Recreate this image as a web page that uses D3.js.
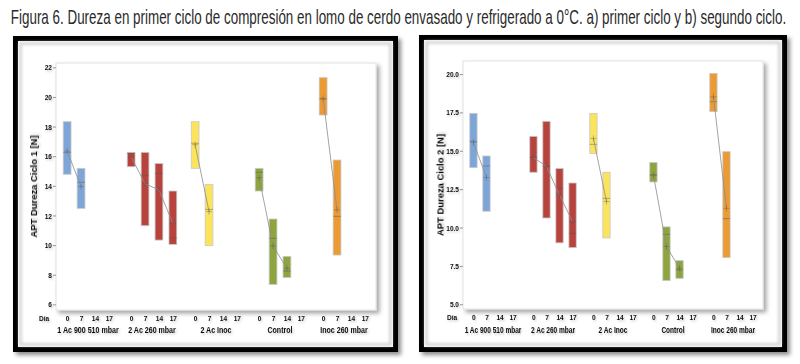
<!DOCTYPE html>
<html>
<head>
<meta charset="utf-8">
<script src="https://cdn.jsdelivr.net/npm/d3@7"></script>
<style>
  html, body { margin: 0; padding: 0; background: #fff; }
  svg { display: block; }
</style>
</head>
<body>
<script>
// ---------------- DATA ----------------
const titleText = "Figura 6. Dureza en primer ciclo de compresión en lomo de cerdo envasado y refrigerado a 0°C. a) primer ciclo y b) segundo ciclo.";
const groups = ["1 Ac 900 510 mbar", "2 Ac 260 mbar", "2 Ac Inoc", "Control", "Inoc 260 mbar"];
const days = ["0", "7", "14", "17"];
const groupColors = ["#7ea5d8", "#b8433d", "#fbe45c", "#8ea43f", "#ec9a33"];

// one entry per box (same layout in both charts)
const boxGroup = [0, 0, 1, 1, 1, 1, 2, 2, 3, 3, 3, 4, 4];
const boxDay   = ["0", "7", "0", "7", "14", "17", "0", "7", "0", "7", "14", "0", "7"];

// a) Ciclo 1
const c1Low    = [14.78, 12.48, 15.29, 11.31, 10.34, 10.05, 15.18, 9.96, 13.65, 7.35, 7.82, 18.78, 9.33];
const c1High   = [18.33, 15.18, 16.24, 16.26, 15.50, 13.65, 18.33, 14.10, 15.18, 11.76, 9.24, 21.30, 15.74];
const c1Median = [16.26, 14.24, 16.20, 14.71, 14.84, 10.48, 16.87, 12.41, 14.91, 10.46, 8.25, 19.86, 11.94];
const c1Mean   = [16.35, 13.95, 15.95, 14.15, 13.72, 11.47, 16.78, 12.26, 14.55, 9.94, 8.43, 19.90, 12.37];
const c1Ticks  = [6, 8, 10, 12, 14, 16, 18, 20, 22];

// b) Ciclo 2
const c2Low    = [13.90, 11.06, 13.60, 10.62, 9.00, 8.69, 14.83, 9.32, 12.97, 6.54, 6.69, 17.55, 8.04];
const c2High   = [17.44, 14.66, 15.94, 16.92, 13.84, 12.90, 17.44, 13.60, 14.23, 10.04, 7.84, 20.04, 14.94];
const c2Median = [15.62, 14.01, 14.57, 14.01, 12.55, 9.62, 15.42, 11.90, 13.42, 9.56, 7.24, 18.20, 10.58];
const c2Mean   = [15.55, 13.25, 14.57, 13.97, 12.12, 10.38, 15.81, 11.69, 13.42, 8.76, 7.35, 18.52, 11.25];
const c2Ticks  = [5, 7.5, 10, 12.5, 15, 17.5, 20];

// ---------------- DRAW ----------------
const W = 800, H = 364;
const FONT = "'Liberation Sans', Arial, sans-serif";
const svg = d3.select("body").append("svg").attr("width", W).attr("height", H);
const defs = svg.append("defs");

const fs = defs.append("filter").attr("id", "frameShadow").attr("x", "-5%").attr("y", "-5%").attr("width", "115%").attr("height", "115%");
fs.append("feDropShadow").attr("dx", 3).attr("dy", 3).attr("stdDeviation", 2).attr("flood-color", "#000").attr("flood-opacity", 0.45);

const ps = defs.append("filter").attr("id", "plotShadow").attr("x", "-5%").attr("y", "-5%").attr("width", "115%").attr("height", "115%");
ps.append("feDropShadow").attr("dx", 3).attr("dy", 3).attr("stdDeviation", 2).attr("flood-color", "#000").attr("flood-opacity", 0.35);

const ts = defs.append("filter").attr("id", "textShadow").attr("x", "-20%").attr("y", "-40%").attr("width", "150%").attr("height", "200%");
ts.append("feDropShadow").attr("dx", 1.5).attr("dy", 1.5).attr("stdDeviation", 1).attr("flood-color", "#000").attr("flood-opacity", 0.22);

const ib = defs.append("filter").attr("id", "innerBlur");
ib.append("feGaussianBlur").attr("stdDeviation", 1.6);

// narrow a text horizontally by a factor, keeping its anchor point (emulates a condensed face)
function condense(sel, factor) {
  sel.each(function () {
    const t = d3.select(this);
    const x = +(t.attr("x") || 0);
    t.attr("x", x / factor).attr("transform", `scale(${factor},1)`);
  });
}

// Title: tall, condensed look (font sized to fit width, stretched vertically)
const titleG = svg.append("g");
const title = titleG.append("text")
  .attr("x", 0).attr("y", 0)
  .attr("text-anchor", "middle")
  .attr("font-family", FONT)
  .attr("font-size", 12)
  .attr("fill", "#2a2a2a")
  .text(titleText);
{
  const L = title.node().getComputedTextLength();
  const fsz = 12 * 776 / L;
  title.attr("font-size", fsz);
  titleG.attr("transform", `translate(398.5,24) scale(1,${20.5 / fsz})`);
}

function styleLabel(sel, size) {
  sel.attr("font-family", FONT).attr("font-size", size).attr("font-weight", "bold")
    .attr("fill", "#111").attr("filter", "url(#textShadow)");
}

function drawChart(cfg) {
  const g = svg.append("g");

  // outer frame
  g.append("rect")
    .attr("x", cfg.frame[0]).attr("y", cfg.frame[1])
    .attr("width", cfg.frame[2] - cfg.frame[0]).attr("height", cfg.frame[3] - cfg.frame[1])
    .attr("fill", "#fff").attr("stroke", "#000").attr("stroke-width", 5)
    .attr("filter", "url(#frameShadow)");
  // soft inner grey edge
  g.append("rect")
    .attr("x", cfg.frame[0] + 5).attr("y", cfg.frame[1] + 5)
    .attr("width", cfg.frame[2] - cfg.frame[0] - 10).attr("height", cfg.frame[3] - cfg.frame[1] - 10)
    .attr("fill", "none").attr("stroke", "#d6d6d6").attr("stroke-width", 3)
    .attr("filter", "url(#innerBlur)");

  const [pl, pt, pr, pb] = cfg.plot;
  g.append("rect")
    .attr("x", pl).attr("y", pt).attr("width", pr - pl).attr("height", pb - pt)
    .attr("fill", "#fff").attr("stroke", "#e2e2e2").attr("stroke-width", 1)
    .attr("filter", "url(#plotShadow)");

  const y = d3.scaleLinear().domain(cfg.yDomain).range([pb, pt]);
  const xg = d3.scaleBand().domain(groups).range([pl, pr]).paddingInner(0).paddingOuter(0);
  const xd = d3.scalePoint().domain(days).range([0, xg.bandwidth()]).padding(0.8);
  const bw = xd.step() * 0.56;

  // y axis
  const ya = g.append("g").attr("transform", `translate(${pl},0)`)
    .call(d3.axisLeft(y).tickValues(cfg.ticks).tickFormat(cfg.fmt).tickSize(3).tickPadding(1));
  ya.select(".domain").remove();
  ya.selectAll(".tick line").attr("stroke", "#999");
  ya.selectAll(".tick text").call(styleLabel, 8).call(condense, 0.82);

  // y title
  g.append("text")
    .attr("transform", `translate(${cfg.yTitleX},${(pt + pb) / 2}) rotate(-90)`)
    .attr("text-anchor", "middle")
    .call(styleLabel, 9)
    .text(cfg.yTitle)
    .attr("textLength", 102).attr("lengthAdjust", "spacingAndGlyphs");

  // x axes: days per group
  groups.forEach(gr => {
    const da = g.append("g").attr("transform", `translate(${xg(gr)},${cfg.dayY})`)
      .call(d3.axisBottom(xd).tickSize(0).tickPadding(0));
    da.select(".domain").remove();
    da.selectAll(".tick text").attr("dy", "0.35em").call(styleLabel, 8).call(condense, 0.82);
  });
  const ga = g.append("g").attr("transform", `translate(0,${cfg.groupY})`)
    .call(d3.axisBottom(xg).tickSize(0).tickPadding(0));
  ga.select(".domain").remove();
  ga.selectAll(".tick text").attr("dy", "0.35em").call(styleLabel, 8.6).call(condense, cfg.groupCondense);

  g.append("g").attr("transform", `translate(${cfg.diaX},${cfg.dayY})`)
    .append("text")
    .attr("x", 0).attr("y", 0).attr("dy", "0.35em")
    .call(styleLabel, 8)
    .text("Día")
    .call(condense, 0.82);

  const idx = d3.range(boxGroup.length);
  const cx = i => xg(groups[boxGroup[i]]) + xd(boxDay[i]);

  // boxes
  g.append("g").selectAll("rect").data(idx).join("rect")
    .attr("x", i => cx(i) - bw / 2)
    .attr("y", i => y(cfg.high[i]))
    .attr("width", bw)
    .attr("height", i => y(cfg.low[i]) - y(cfg.high[i]))
    .attr("fill", i => groupColors[boxGroup[i]])
    .attr("stroke", "#c8c8c8").attr("stroke-width", 0.8);

  // medians
  g.append("g").selectAll("line").data(idx).join("line")
    .attr("x1", i => cx(i) - bw / 2).attr("x2", i => cx(i) + bw / 2)
    .attr("y1", i => y(cfg.median[i])).attr("y2", i => y(cfg.median[i]))
    .attr("stroke", "#555").attr("stroke-opacity", 0.55).attr("stroke-width", 0.8);

  // mean connect lines per group
  groups.forEach((gr, gi) => {
    const ids = idx.filter(i => boxGroup[i] === gi);
    g.append("path")
      .datum(ids)
      .attr("fill", "none").attr("stroke", "#8c8c8c").attr("stroke-width", 0.8)
      .attr("d", d3.line().x(i => cx(i)).y(i => y(cfg.mean[i])));
  });

  // mean symbols (plus signs)
  g.append("g").selectAll("path").data(idx).join("path")
    .attr("transform", i => `translate(${cx(i)},${y(cfg.mean[i])})`)
    .attr("d", "M-3,0H3M0,-3V3")
    .attr("fill", "none").attr("stroke", "#555").attr("stroke-opacity", 0.55).attr("stroke-width", 0.7);
}

drawChart({
  frame: [15.5, 38.5, 395.5, 349.5],
  plot: [56, 63, 376, 310],
  yDomain: [5.62, 22.29],
  ticks: c1Ticks,
  fmt: d3.format("d"),
  yTitle: "APT Dureza Ciclo 1 [N]",
  yTitleX: 37,
  dayY: 318,
  groupY: 330,
  diaX: 39,
  groupCondense: 0.82,
  low: c1Low, high: c1High, median: c1Median, mean: c1Mean
});

drawChart({
  frame: [421.5, 37.5, 784.5, 349.5],
  plot: [463, 61, 763, 309],
  yDomain: [4.69, 20.85],
  ticks: c2Ticks,
  fmt: d3.format(".1f"),
  yTitle: "APT Dureza Ciclo 2 [N]",
  yTitleX: 443.5,
  dayY: 317,
  groupY: 330,
  diaX: 447,
  groupCondense: 0.76,
  low: c2Low, high: c2High, median: c2Median, mean: c2Mean
});
</script>
</body>
</html>
